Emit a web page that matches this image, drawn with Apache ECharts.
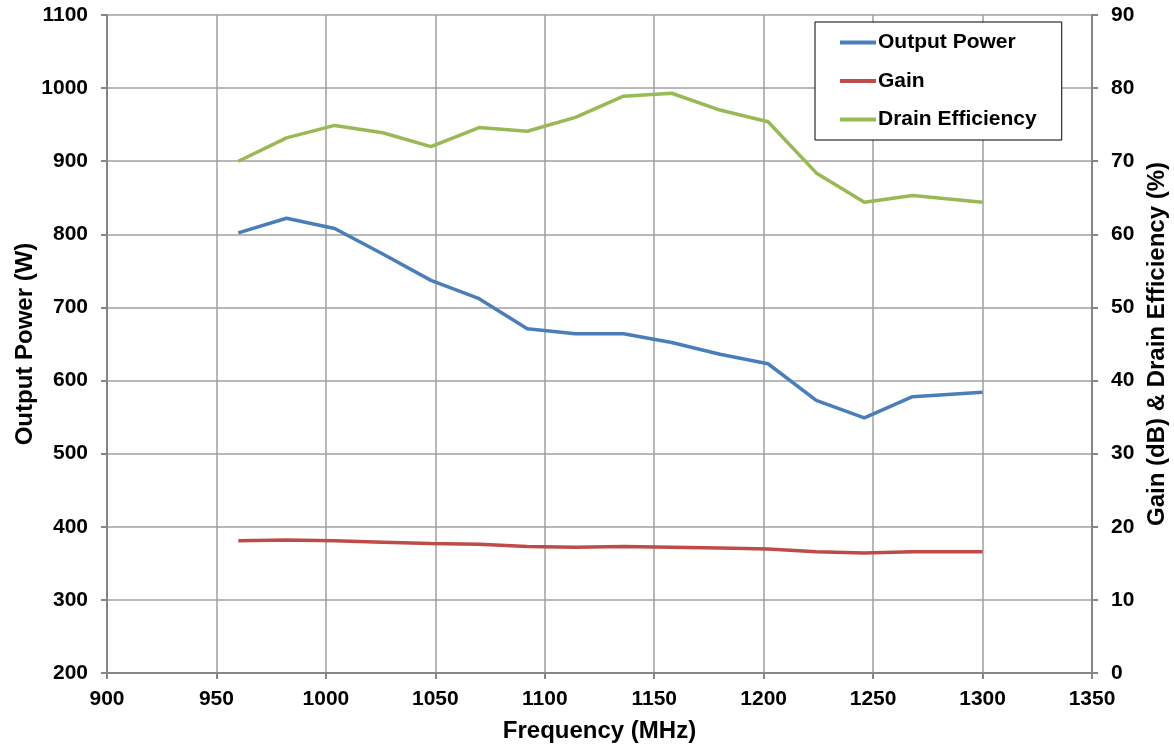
<!DOCTYPE html>
<html>
<head>
<meta charset="utf-8">
<script src="https://cdn.jsdelivr.net/npm/echarts@6/dist/echarts.min.js"></script>
<style>
  html, body { margin: 0; padding: 0; background: #fff; }
  #chart { width: 1174px; height: 748px; }
</style>
</head>
<body>
<div id="chart"></div>
<script>
// frequency points (MHz)
var freq = [960, 982, 1004, 1026, 1048, 1070, 1092, 1114, 1136, 1158, 1180, 1202, 1224, 1246, 1268, 1300]
// output power (W), left axis
var outputPower = [802, 822, 808, 773, 737, 712, 671, 664, 664, 652, 636, 623, 573, 549, 578, 584]
// gain (dB), right axis
var gain = [18.1, 18.2, 18.1, 17.9, 17.7, 17.6, 17.3, 17.2, 17.3, 17.2, 17.1, 16.95, 16.6, 16.4, 16.6, 16.6]
// drain efficiency (%), right axis
var drainEff = [70.0, 73.2, 74.9, 73.9, 72.0, 74.6, 74.1, 76.0, 78.9, 79.3, 77.0, 75.4, 68.4, 64.4, 65.3, 64.4]

function pairs(ys) {
  return freq.map(function (f, i) { return [f, ys[i]] })
}

var font = 'Liberation Sans, Arial, sans-serif'
var plain = function (v) { return String(v) }
var labelStyle = { color: '#000', fontSize: 21, fontWeight: 'bold', fontFamily: font, formatter: plain }
var nameStyle = { color: '#000', fontSize: 24, fontWeight: 'bold', fontFamily: font }
var axisLine = { show: true, lineStyle: { color: '#868686', width: 2 } }
var axisTick = { show: true, inside: false, length: 6, lineStyle: { color: '#868686', width: 2 } }
var gridLine = { show: true, lineStyle: { color: '#a0a0a0', width: 1.5 } }

var chart = echarts.init(document.getElementById('chart'))
chart.setOption({
  backgroundColor: '#fff',
  animation: false,
  grid: { left: 107, right: 82, top: 15, bottom: 75, containLabel: false, outerBoundsMode: 'none' },
  legend: {
    orient: 'vertical',
    left: 815,
    top: 22,
    padding: [10, 25, 10, 25],
    itemGap: 17.5,
    itemWidth: 36,
    itemHeight: 4,
    icon: 'rect',
    backgroundColor: '#fff',
    borderColor: '#000',
    borderWidth: 1,
    textStyle: { color: '#000', fontSize: 21, fontWeight: 'bold', fontFamily: font, lineHeight: 21, padding: [0, 0, 0, -3] },
    data: ['Output Power', 'Gain', 'Drain Efficiency']
  },
  xAxis: {
    type: 'value',
    min: 900,
    max: 1350,
    interval: 50,
    name: 'Frequency (MHz)',
    nameLocation: 'middle',
    nameGap: 46,
    nameMoveOverlap: false,
    nameTextStyle: nameStyle,
    axisLine: axisLine,
    axisTick: axisTick,
    axisLabel: Object.assign({ margin: 16 }, labelStyle),
    splitLine: gridLine
  },
  yAxis: [{
    type: 'value',
    min: 200,
    max: 1100,
    interval: 100,
    name: 'Output Power (W)',
    nameLocation: 'middle',
    nameGap: 70,
    nameMoveOverlap: false,
    nameTextStyle: nameStyle,
    axisLine: axisLine,
    axisTick: axisTick,
    axisLabel: Object.assign({ margin: 19 }, labelStyle),
    splitLine: gridLine
  }, {
    type: 'value',
    min: 0,
    max: 90,
    interval: 10,
    position: 'right',
    name: 'Gain (dB) & Drain Efficiency (%)',
    nameLocation: 'middle',
    nameGap: 53,
    nameMoveOverlap: false,
    nameTextStyle: nameStyle,
    axisLine: axisLine,
    axisTick: axisTick,
    axisLabel: Object.assign({ margin: 19 }, labelStyle),
    splitLine: { show: false }
  }],
  series: [{
    name: 'Output Power',
    type: 'line',
    yAxisIndex: 0,
    showSymbol: false,
    symbol: 'none',
    color: '#4a7ebb',
    lineStyle: { color: '#4a7ebb', width: 3.5 },
    data: pairs(outputPower)
  }, {
    name: 'Gain',
    type: 'line',
    yAxisIndex: 1,
    showSymbol: false,
    symbol: 'none',
    color: '#be4b48',
    lineStyle: { color: '#be4b48', width: 3.5 },
    data: pairs(gain)
  }, {
    name: 'Drain Efficiency',
    type: 'line',
    yAxisIndex: 1,
    showSymbol: false,
    symbol: 'none',
    color: '#98b954',
    lineStyle: { color: '#98b954', width: 3.5 },
    data: pairs(drainEff)
  }]
})
</script>
</body>
</html>
